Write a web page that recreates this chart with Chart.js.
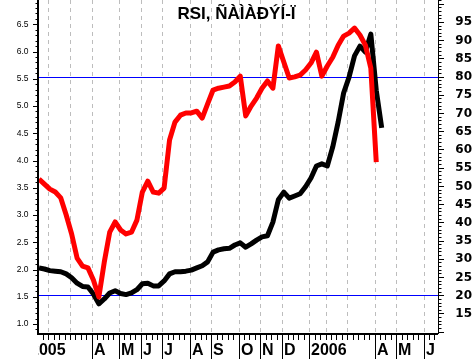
<!DOCTYPE html>
<html>
<head>
<meta charset="utf-8">
<script src="https://cdn.jsdelivr.net/npm/chart.js@4.4.0/dist/chart.umd.min.js"></script>
<style>
  html, body { margin:0; padding:0; background:#fff; }
  #wrap { width:476px; height:359px; }
</style>
</head>
<body>
<div id="wrap"><canvas id="chart" width="476" height="359"></canvas></div>
<script>
const titleText = "RSI, ÑÀÌÀÐÝÍ-Ï";

// weekly values, week 0 = first point on the left edge
const rsiValues = [51.9, 50.5, 49.1, 48.3, 46.7, 42.0, 36.8, 30.2, 28.0, 27.5,
  24.2, 19.5, 29.1, 37.3, 40.1, 37.9, 36.8, 37.3, 40.6, 48.3,
  51.3, 48.3, 48.0, 49.4, 62.6, 67.5, 69.4, 70.0, 70.0, 70.5,
  68.6, 72.5, 76.3, 76.8, 77.1, 77.4, 78.5, 80.1, 69.2, 71.9,
  74.1, 76.8, 78.8, 76.8, 88.4, 84.0, 79.6, 79.9, 80.4, 81.8,
  83.7, 86.7, 80.1, 82.9, 85.3, 88.6, 91.1, 91.9, 93.3, 91.4,
  88.6, 82.3, 56.5];

const priceValues = [2.03, 2.01, 1.98, 1.97, 1.96, 1.92, 1.85, 1.75, 1.69, 1.68,
  1.55, 1.37, 1.46, 1.57, 1.61, 1.56, 1.54, 1.57, 1.63, 1.74,
  1.75, 1.70, 1.70, 1.79, 1.92, 1.96, 1.96, 1.97, 1.99, 2.03,
  2.07, 2.14, 2.32, 2.36, 2.38, 2.39, 2.45, 2.49, 2.41, 2.47,
  2.54, 2.60, 2.62, 2.87, 3.28, 3.42, 3.31, 3.35, 3.39, 3.52,
  3.68, 3.90, 3.94, 3.90, 4.25, 4.71, 5.24, 5.53, 5.92, 6.10,
  5.99, 6.32, 5.29, 4.60];

// month boundaries (in weeks) and their labels
const monthTicks  = [-2.05, 1.69, 5.69, 9.69, 14.69, 18.69, 22.69, 27.69, 31.69, 36.69, 40.69, 44.69, 49.69, 52.69, 56.69, 61.69, 65.69, 70.69];
const monthLabels = ["2005", "", "", "A", "M", "J", "J", "A", "S", "O", "N", "D", "2006", "", "", "A", "M", "J"];

const priceTicks = [1.0, 1.5, 2.0, 2.5, 3.0, 3.5, 4.0, 4.5, 5.0, 5.5, 6.0, 6.5];
const rsiTicks = [15, 20, 25, 30, 35, 40, 45, 50, 55, 60, 65, 70, 75, 80, 85, 90, 95];
const rsiLevels = [80, 20];

function seg(ctx, x1, y1, x2, y2) {
  ctx.beginPath();
  ctx.moveTo(x1, y1);
  ctx.lineTo(x2, y2);
  ctx.stroke();
}

const axesPlugin = {
  id: "axesPlugin",
  beforeDatasetsDraw(chart) {
    const { ctx, chartArea: a, scales } = chart;
    ctx.save();
    // dashed month grid
    ctx.strokeStyle = "#bdbdbd";
    ctx.lineWidth = 1;
    ctx.setLineDash([4, 4]);
    monthTicks.forEach(t => {
      const x = Math.round(scales.x.getPixelForValue(t)) + 0.5;
      if (x <= a.left || x >= a.right) return;
      seg(ctx, x, a.top, x, a.bottom);
    });
    ctx.setLineDash([]);
    // overbought / oversold levels
    ctx.strokeStyle = "rgb(0,0,255)";
    rsiLevels.forEach(v => {
      const y = Math.round(scales.y1.getPixelForValue(v)) + 0.5;
      seg(ctx, a.left, y, a.right, y);
    });
    ctx.restore();
  },
  afterDraw(chart) {
    const { ctx, chartArea: a, scales } = chart;
    ctx.save();
    ctx.strokeStyle = "#000";
    ctx.fillStyle = "#000";

    // axis lines
    ctx.lineWidth = 2;
    seg(ctx, a.left - 1, 0, a.left - 1, a.bottom + 1);
    seg(ctx, a.left - 2, a.bottom, a.right, a.bottom);
    ctx.lineWidth = 1;
    seg(ctx, a.right + 0.5, 0, a.right + 0.5, a.bottom);

    // left axis ticks every 0.1
    const ys = scales.y;
    for (let k = 9; k <= 69; k++) {
      const y = Math.round(ys.getPixelForValue(k / 10)) + 0.5;
      if (y < 0 || y > a.bottom) continue;
      const len = k % 5 === 0 ? 5 : 2.5;
      seg(ctx, a.left - 1 - len, y, a.left - 1, y);
    }
    ctx.font = "8.5px 'Liberation Sans', Arial, sans-serif";
    ctx.textAlign = "right";
    ctx.textBaseline = "middle";
    priceTicks.forEach(v => {
      ctx.fillText(v.toFixed(1), 28.5, ys.getPixelForValue(v));
    });

    // right axis ticks every 1
    const ys1 = scales.y1;
    for (let v = 10; v <= 101; v++) {
      const y = Math.round(ys1.getPixelForValue(v)) + 0.5;
      if (y < 0 || y > a.bottom) continue;
      const len = v % 5 === 0 ? 6 : 3.5;
      seg(ctx, a.right, y, a.right + len, y);
    }
    ctx.font = "bold 12px 'DejaVu Sans', sans-serif";
    ctx.textAlign = "right";
    rsiTicks.forEach(v => {
      ctx.fillText(String(v), 472, ys1.getPixelForValue(v) + 0.5);
    });

    // bottom axis: weekly ticks + long month ticks
    const xs = scales.x;
    for (let w = 0; w < 80; w++) {
      const x = Math.round(xs.getPixelForValue(w + 0.69)) + 0.5;
      if (x < a.left || x > a.right) continue;
      seg(ctx, x, a.bottom, x, a.bottom + 6);
    }
    ctx.font = "bold 16px 'Liberation Sans', Arial, sans-serif";
    ctx.textAlign = "left";
    ctx.textBaseline = "alphabetic";
    ctx.beginPath();
    ctx.rect(a.left - 1, a.bottom, chart.width, chart.height - a.bottom);
    ctx.clip();
    monthTicks.forEach((t, i) => {
      if (!monthLabels[i]) return;
      const x = Math.round(xs.getPixelForValue(t)) + 0.5;
      if (x > a.left) seg(ctx, x, a.bottom, x, chart.height);
      ctx.fillText(monthLabels[i], x + 1.5, 355);
    });
    ctx.restore();

    // title
    ctx.save();
    ctx.fillStyle = "#000";
    ctx.font = "bold 17px 'Liberation Sans', Arial, sans-serif";
    ctx.textAlign = "center";
    ctx.textBaseline = "alphabetic";
    ctx.fillText(titleText, 236.5, 19);
    ctx.restore();
  }
};

new Chart(document.getElementById("chart"), {
  type: "line",
  data: {
    datasets: [{
      label: "RSI",
      data: rsiValues.map((v, i) => ({ x: i, y: v })),
      yAxisID: "y1",
      borderColor: "#ff0000",
      borderWidth: 5,
      borderJoinStyle: "round",
      pointRadius: 0,
      tension: 0
    }, {
      label: "Price",
      data: priceValues.map((v, i) => ({ x: i, y: v })),
      yAxisID: "y",
      borderColor: "#000000",
      borderWidth: 5,
      borderJoinStyle: "round",
      pointRadius: 0,
      tension: 0
    }]
  },
  options: {
    responsive: false,
    animation: false,
    devicePixelRatio: 1,
    layout: { padding: { left: 39, right: 38, top: 0, bottom: 25 } },
    plugins: { legend: { display: false }, tooltip: { enabled: false } },
    scales: {
      x: { type: "linear", min: 0, max: 73.35, display: false },
      y: { type: "linear", position: "left", min: 0.817, max: 6.946, display: false },
      y1: { type: "linear", position: "right", min: 9.36, max: 101.0, display: false }
    }
  },
  plugins: [axesPlugin]
});
</script>
</body>
</html>
